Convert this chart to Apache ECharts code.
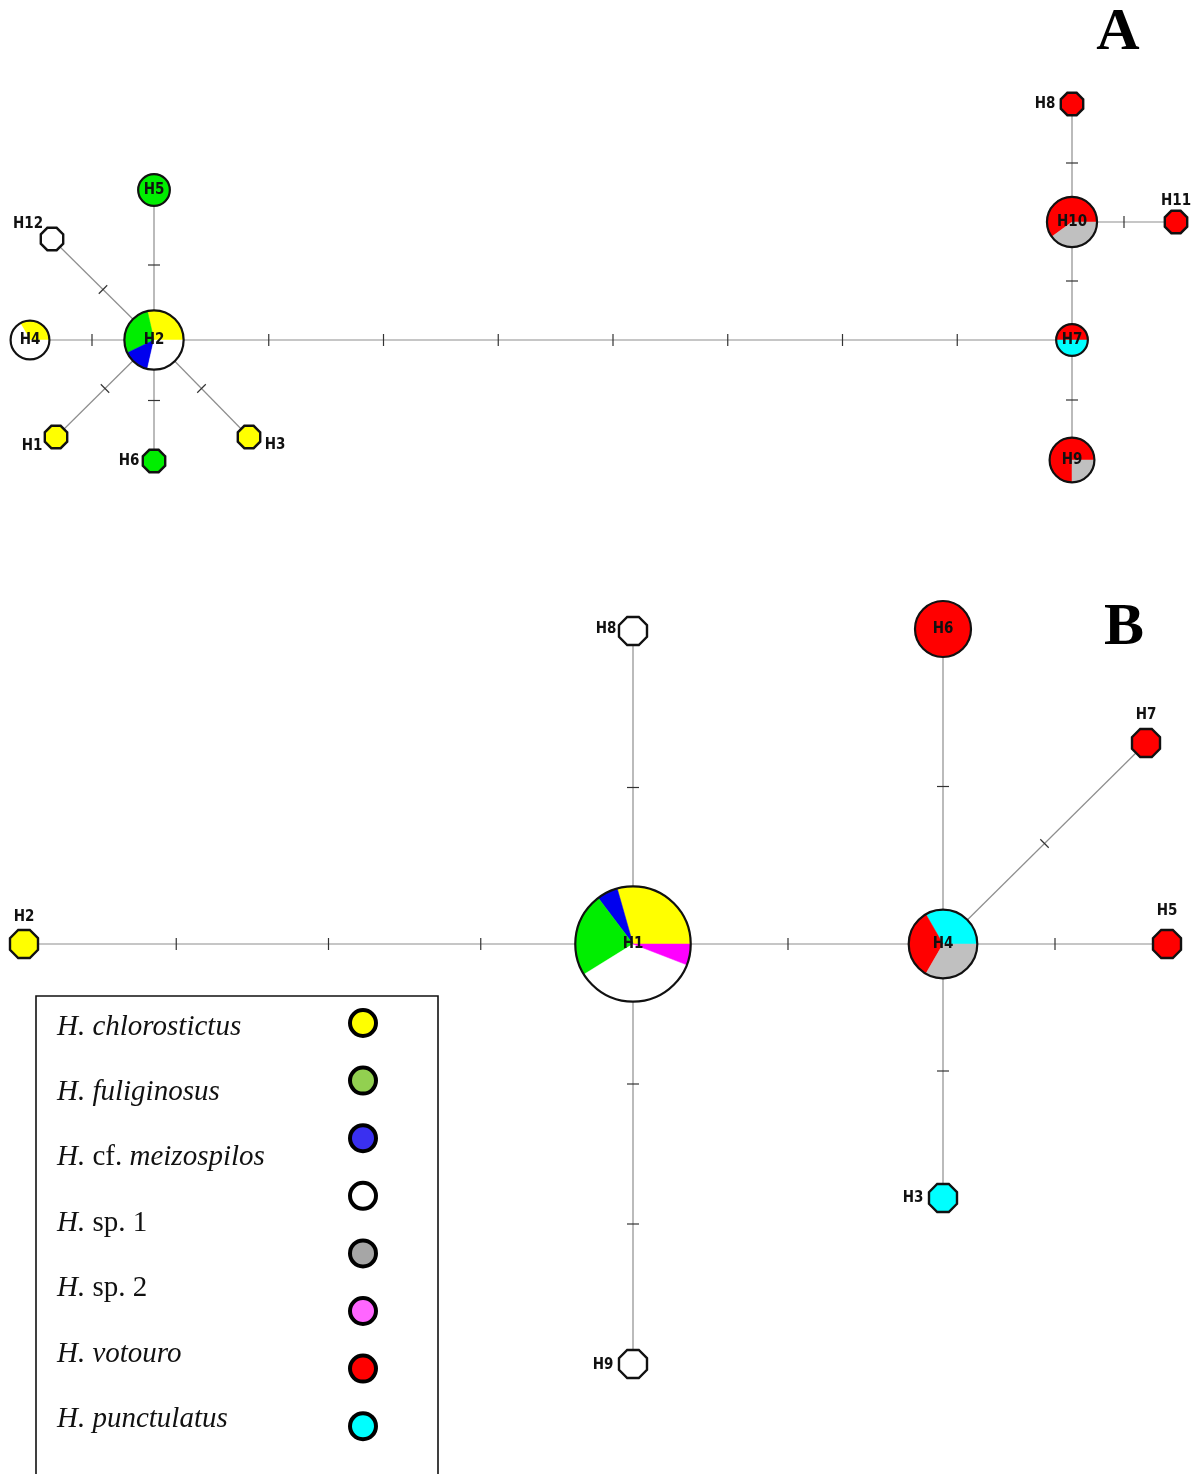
<!DOCTYPE html>
<html><head><meta charset="utf-8">
<script src="https://cdn.jsdelivr.net/npm/echarts@6/dist/echarts.min.js"></script>
<style>html,body{margin:0;padding:0;background:#fff}#c{width:1196px;height:1474px}</style>
</head><body><div id="c"></div>
<script>
// ---------- DATA ----------
// Panel A haplotype network
const hapA = ['H1','H2','H3','H4','H5','H6','H7','H8','H9','H10','H11','H12'];
const xA = [56,154,249,30,154,154,1072,1072,1072,1072,1176,52];
const yA = [437,340,437,340,190,461,340,104,460,222,222,239];
const slicesA = [
  [['chl',1]],
  [['chl',2],['ful',2],['mei',1],['sp1',2]],
  [['chl',1]],
  [['chl',1],['sp1',2]],
  [['ful',2]],
  [['ful',1]],
  [['vot',1],['pun',1]],
  [['vot',1]],
  [['vot',3],['sp2',1]],
  [['vot',3],['sp2',2]],
  [['vot',1]],
  [['sp1',1]]
];
// [from, to, mutational steps]
const edgesA = [['H2','H1',1],['H2','H3',1],['H2','H4',1],['H2','H5',1],['H2','H6',1],['H2','H12',1],
                ['H2','H7',7],['H7','H10',1],['H10','H8',1],['H10','H11',1],['H7','H9',1]];

// Panel B haplotype network
const hapB = ['H1','H2','H3','H4','H5','H6','H7','H8','H9'];
const xB = [633,24,943,943,1167,943,1146,633,633];
const yB = [944,944,1198,944,944,629,743,631,1364];
const slicesB = [
  [['chl',5],['mei',1],['ful',4],['sp1',6],['mag',1]],
  [['chl',1]],
  [['pun',1]],
  [['pun',2],['vot',2],['sp2',2]],
  [['vot',1]],
  [['vot',4]],
  [['vot',1]],
  [['sp1',1]],
  [['sp1',1]]
];
const edgesB = [['H2','H1',3],['H1','H8',1],['H1','H9',2],['H1','H4',1],['H4','H6',1],['H4','H7',1],['H4','H5',1],['H4','H3',1]];

// Legend
const legendLabels = ['{i|H. chlorostictus}','{i|H. fuliginosus}','{i|H.} {n|cf.} {i|meizospilos}','{i|H.} {n|sp. 1}','{i|H.} {n|sp. 2}','{i|H. votouro}','{i|H. punctulatus}'];
const legendKeys = ['chlL','fulL','meiL','sp1','sp2L','magL','vot','pun'];

// ---------- STYLE ----------
const COLORS = {chl:'#ffff00', ful:'#00ee00', mei:'#0000ee', sp1:'#ffffff', sp2:'#c0c0c0', mag:'#ff00ff', vot:'#ff0000', pun:'#00ffff',
  chlL:'#ffff00', fulL:'#92d050', meiL:'#3a30f0', sp2L:'#a6a6a6', magL:'#ff66ff'};
const baseR = {A:11.2, B:14};
const labelOffset = {
  A:{H1:[-24,9], H3:[26,8], H6:[-25,0], H8:[-27,0], H11:[0,-21], H12:[-24,-15]},
  B:{H2:[0,-27], H3:[-30,0], H5:[0,-33], H7:[0,-28], H8:[-27,-2], H9:[-30,1]}
};
const LABEL_FONT = 'bold 15px "DejaVu Sans Condensed", "DejaVu Sans", sans-serif';

// ---------- BUILD ----------
const nodes = [];
function addPanel(p, names, xs, ys, sl){
  names.forEach((n,i)=>nodes.push({panel:p, name:n, x:xs[i], y:ys[i], slices:sl[i]}));
}
addPanel('A', hapA, xA, yA, slicesA);
addPanel('B', hapB, xB, yB, slicesB);
function findNode(p,n){ return nodes.find(d=>d.panel===p && d.name===n); }
const edges = [];
edgesA.forEach(e=>{const a=findNode('A',e[0]), b=findNode('A',e[1]); edges.push([a.x,a.y,b.x,b.y,e[2]]);});
edgesB.forEach(e=>{const a=findNode('B',e[0]), b=findNode('B',e[1]); edges.push([a.x,a.y,b.x,b.y,e[2]]);});

function renderEdge(params, api){
  const p1 = api.coord([api.value(0), api.value(1)]);
  const p2 = api.coord([api.value(2), api.value(3)]);
  const n = api.value(4);
  const dx = p2[0]-p1[0], dy = p2[1]-p1[1];
  const len = Math.sqrt(dx*dx+dy*dy);
  const nx = -dy/len, ny = dx/len;
  const children = [{type:'line', shape:{x1:p1[0],y1:p1[1],x2:p2[0],y2:p2[1]}, style:{stroke:'#8e8e8e', lineWidth:1.2}}];
  const h = 6;
  for(let i=1;i<=n;i++){
    const t = i/(n+1);
    const cx = p1[0]+dx*t, cy = p1[1]+dy*t;
    children.push({type:'line', shape:{x1:cx-nx*h, y1:cy-ny*h, x2:cx+nx*h, y2:cy+ny*h}, style:{stroke:'#333', lineWidth:1.2}});
  }
  return {type:'group', children};
}

function renderNode(params, api){
  const d = nodes[params.dataIndex];
  const c = api.coord([api.value(0), api.value(1)]);
  const unit = api.size([1,1])[0];
  const total = d.slices.reduce((s,v)=>s+v[1],0);
  const r = baseR[d.panel]*Math.sqrt(total)*unit;
  const children = [];
  if(total===1){
    const R = r/Math.cos(Math.PI/8);
    const pts=[];
    for(let k=0;k<8;k++){const a=(22.5+45*k)*Math.PI/180; pts.push([c[0]+R*Math.cos(a), c[1]-R*Math.sin(a)]);}
    children.push({type:'polygon', shape:{points:pts}, style:{fill:COLORS[d.slices[0][0]], stroke:'#111', lineWidth:2.4}});
  } else {
    let a0 = 0;
    d.slices.forEach(s=>{
      const a1 = a0 + s[1]/total*360;
      const pts=[[c[0],c[1]]];
      for(let a=a0;a<=a1+0.001;a+=1){const rad=a*Math.PI/180; pts.push([c[0]+r*Math.cos(rad), c[1]-r*Math.sin(rad)]);}
      const rad=a1*Math.PI/180; pts.push([c[0]+r*Math.cos(rad), c[1]-r*Math.sin(rad)]);
      children.push({type:'polygon', shape:{points:pts}, style:{fill:COLORS[s[0]], stroke:COLORS[s[0]], lineWidth:0.5}});
      a0 = a1;
    });
    children.push({type:'circle', shape:{cx:c[0], cy:c[1], r:r}, style:{fill:'none', stroke:'#111', lineWidth:2.2}});
  }
  const off = labelOffset[d.panel][d.name] || [0,0];
  children.push({type:'text', style:{text:d.name, x:c[0]+off[0], y:c[1]+off[1], fill:'#111',
    font:LABEL_FONT, align:'center', verticalAlign:'middle'}});
  return {type:'group', children};
}

// legend graphics
const legendGraphics = [
  {type:'rect', shape:{x:36, y:996, width:402, height:520}, style:{fill:'#fff', stroke:'#111', lineWidth:1.6}, z:10}
];
legendLabels.forEach((t,i)=>{
  legendGraphics.push({type:'text', x:57, y:1027+i*65.4, z:11, style:{text:t, fill:'#111', verticalAlign:'middle', align:'left',
    font:'29px "Liberation Serif"',
    rich:{i:{fontStyle:'italic', fontSize:29, fontFamily:'Liberation Serif', fill:'#111'}, n:{fontSize:29, fontFamily:'Liberation Serif', fill:'#111'}}}});
});
legendKeys.forEach((k,i)=>{
  legendGraphics.push({type:'circle', z:11, shape:{cx:363, cy:1023+i*57.6, r:13}, style:{fill:COLORS[k], stroke:'#000', lineWidth:4}});
});
legendGraphics.push({type:'text', z:11, style:{text:'A', x:1118, y:33, font:'bold 60px "Liberation Serif"', fill:'#000', align:'center', verticalAlign:'middle'}});
legendGraphics.push({type:'text', z:11, style:{text:'B', x:1124, y:628, font:'bold 60px "Liberation Serif"', fill:'#000', align:'center', verticalAlign:'middle'}});

const chart = echarts.init(document.getElementById('c'));
chart.setOption({
  backgroundColor:'#fff',
  animation:false,
  grid:{left:0, right:0, top:0, bottom:0},
  xAxis:{type:'value', min:0, max:1196, show:false},
  yAxis:{type:'value', min:0, max:1474, inverse:true, show:false},
  series:[
    {type:'custom', renderItem:renderEdge, data:edges, encode:{x:[0,2], y:[1,3]}, clip:false, z:1, silent:true},
    {type:'custom', renderItem:renderNode, data:nodes.map(d=>[d.x,d.y]), encode:{x:0, y:1}, clip:false, z:2, silent:true}
  ],
  graphic:{elements:legendGraphics}
});
</script></body></html>
